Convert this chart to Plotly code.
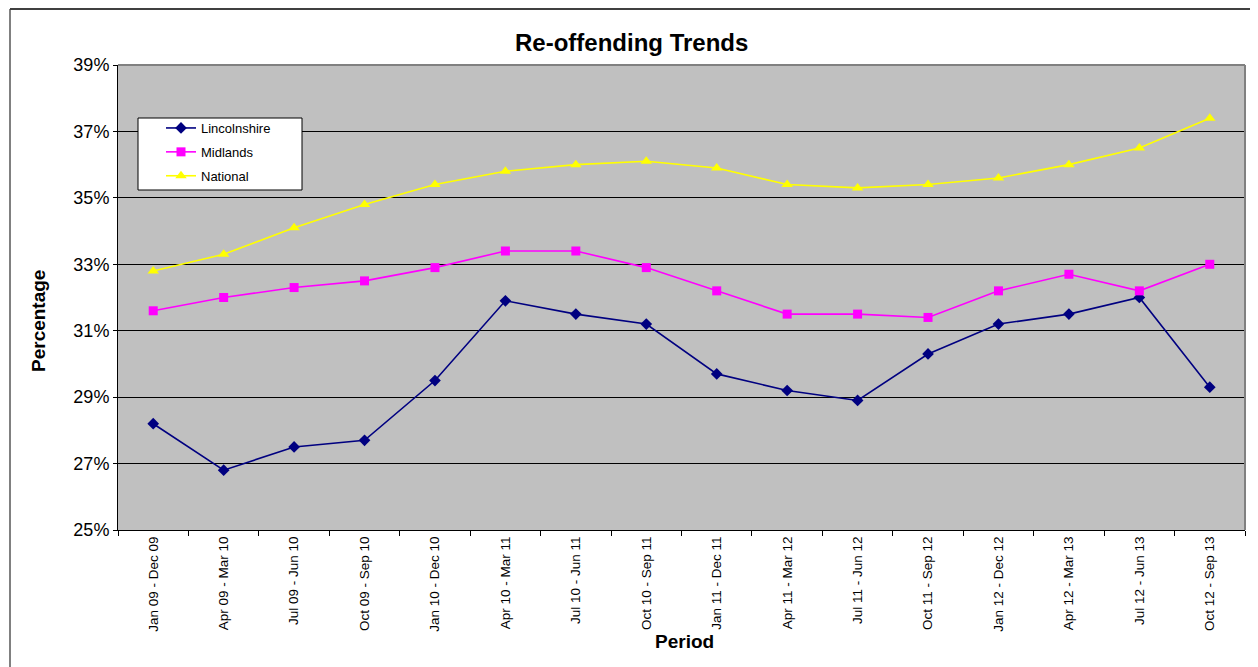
import plotly.graph_objects as go

periods = ["Jan 09 - Dec 09", "Apr 09 - Mar 10", "Jul 09 - Jun 10", "Oct 09 - Sep 10",
           "Jan 10 - Dec 10", "Apr 10 - Mar 11", "Jul 10 - Jun 11", "Oct 10 - Sep 11",
           "Jan 11 - Dec 11", "Apr 11 - Mar 12", "Jul 11 - Jun 12", "Oct 11 - Sep 12",
           "Jan 12 - Dec 12", "Apr 12 - Mar 13", "Jul 12 - Jun 13", "Oct 12 - Sep 13"]
lincolnshire = [28.2, 26.8, 27.5, 27.7, 29.5, 31.9, 31.5, 31.2, 29.7, 29.2, 28.9, 30.3, 31.2, 31.5, 32.0, 29.3]
midlands = [31.6, 32.0, 32.3, 32.5, 32.9, 33.4, 33.4, 32.9, 32.2, 31.5, 31.5, 31.4, 32.2, 32.7, 32.2, 33.0]
national = [32.8, 33.3, 34.1, 34.8, 35.4, 35.8, 36.0, 36.1, 35.9, 35.4, 35.3, 35.4, 35.6, 36.0, 36.5, 37.4]
y_ticks = [25, 27, 29, 31, 33, 35, 37, 39]

# page offset (browser body margin) and figure size
OFF = 8
W, H = 1250, 659
# plot area in absolute page pixels
X0, X1, Y0, Y1 = 118, 1245, 65, 530
L, T = X0 - OFF, Y0 - OFF
R, B = W - (X1 - OFF), H - (Y1 - OFF)
pw, ph = X1 - X0, Y1 - Y0


def px(a):
    return (a - X0) / pw


def py(a):
    return (Y1 - a) / ph


fig = go.Figure()
fig.add_trace(go.Scatter(x=periods, y=lincolnshire, name="Lincolnshire", mode="lines+markers",
                         legendgroup="a",
                         line=dict(color="#000080", width=1.6),
                         marker=dict(symbol="diamond", size=9, color="#000080")))
fig.add_trace(go.Scatter(x=periods, y=midlands, name="Midlands", mode="lines+markers",
                         legendgroup="b",
                         line=dict(color="#FF00FF", width=1.6),
                         marker=dict(symbol="square", size=9, color="#FF00FF")))
fig.add_trace(go.Scatter(x=periods, y=national, name="National", mode="lines+markers",
                         legendgroup="c",
                         line=dict(color="#FFFF00", width=1.6),
                         marker=dict(symbol="triangle-up", size=10, color="#FFFF00")))

fig.update_layout(
    width=W, height=H,
    margin=dict(l=L, r=R, t=T, b=B, autoexpand=False),
    paper_bgcolor="white", plot_bgcolor="#C0C0C0",
    font=dict(family="Arial, Liberation Sans, sans-serif", color="black"),
    showlegend=True,
    legend=dict(x=px(161), y=py(113), xanchor="left", yanchor="top",
                bgcolor="rgba(0,0,0,0)", borderwidth=0,
                font=dict(size=13), tracegroupgap=4, itemwidth=30),
    xaxis=dict(type="category", tickangle=-90, tickfont=dict(size=13.5),
               ticks="outside", tickson="boundaries", ticklen=5, tickcolor="black",
               showline=True, linecolor="black", linewidth=1, mirror=False,
               showgrid=False, range=[-0.5, len(periods) - 0.5]),
    yaxis=dict(range=[25, 39], tickvals=y_ticks, ticktext=[f"{v}%" for v in y_ticks],
               tickfont=dict(size=18), ticks="outside", ticklen=4, tickcolor="black",
               showline=True, linecolor="black", linewidth=1,
               showgrid=True, gridcolor="black", gridwidth=1, zeroline=False),
)

# legend box
fig.add_shape(type="rect", xref="paper", yref="paper", layer="above",
              x0=px(138), x1=px(302), y0=py(190), y1=py(118),
              line=dict(color="black", width=1), fillcolor="white")
# plot-area border (top and right)
fig.add_shape(type="line", xref="paper", yref="paper", x0=1, x1=1, y0=0, y1=1,
              line=dict(color="#808080", width=2))
fig.add_shape(type="line", xref="paper", yref="paper", x0=0, x1=1, y0=1, y1=1,
              line=dict(color="#808080", width=2))
# outer chart border (left and top visible)
fig.add_shape(type="line", xref="paper", yref="paper",
              x0=px(10), x1=px(10), y0=py(667), y1=py(9),
              line=dict(color="#808080", width=2))
fig.add_shape(type="line", xref="paper", yref="paper",
              x0=px(10), x1=px(1258), y0=py(9), y1=py(9),
              line=dict(color="#404040", width=2))

fig.add_annotation(text="<b>Re-offending Trends</b>", xref="paper", yref="paper",
                   x=px(631), y=py(43), xanchor="center", yanchor="middle",
                   showarrow=False, font=dict(size=24))
fig.add_annotation(text="<b>Period</b>", xref="paper", yref="paper",
                   x=px(684), y=py(641), xanchor="center", yanchor="middle",
                   showarrow=False, font=dict(size=19))
fig.add_annotation(text="<b>Percentage</b>", xref="paper", yref="paper",
                   x=px(38), y=py(321), xanchor="center", yanchor="middle",
                   textangle=-90, showarrow=False, font=dict(size=19))

fig.write_html("out.html")
